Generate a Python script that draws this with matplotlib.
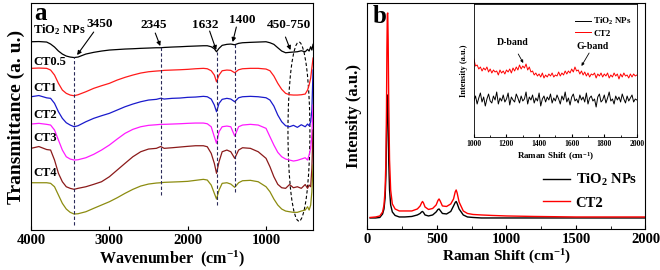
import numpy as np
import matplotlib
matplotlib.use('Agg')
import matplotlib.pyplot as plt
from matplotlib.patches import Ellipse

plt.rcParams['font.family'] = ['Liberation Serif', 'DejaVu Serif']
plt.rcParams['font.weight'] = 'bold'
plt.rcParams['axes.labelweight'] = 'bold'
plt.rcParams['mathtext.fontset'] = 'custom'
plt.rcParams['mathtext.rm'] = 'Liberation Serif:bold'
plt.rcParams['mathtext.bf'] = 'Liberation Serif:bold'
plt.rcParams['mathtext.it'] = 'Liberation Serif:italic:bold'
plt.rcParams['mathtext.default'] = 'rm'

# ---- (a) FTIR spectra, stacked with offsets (a.u.)
wavenumber = [4000, 3900, 3800, 3750, 3700, 3650, 3600, 3550, 3500, 3450,
              3400, 3300, 3200, 3100, 3000, 2900, 2800, 2700, 2600, 2500,
              2400, 2345, 2300, 2200, 2100, 2000, 1900, 1800, 1750, 1700,
              1660, 1632, 1600, 1560, 1500, 1450, 1400, 1350, 1300, 1200,
              1100, 1000, 950, 900, 850, 800, 750, 700, 650, 600,
              550, 500, 470, 450, 430, 415, 400]
ftir_tio2 = [188.3, 188.5, 188, 186, 183, 179, 176, 174, 173, 172.5,
             173, 176, 177.7, 179, 180, 180.5, 181, 181.3, 181.7, 182,
             182.3, 182.3, 182.6, 183, 183.3, 183.7, 184, 184.3, 184.3, 183.3,
             181.3, 178.3, 181.7, 184.7, 185.7, 186, 185.3, 186.7, 187.3, 187.7,
             188, 188.3, 187.3, 185.7, 182.3, 179, 177.3, 177.7, 178, 178.3,
             179.3, 178.3, 180.7, 179, 183.3, 180, 185.7]
ftir_ct05 = [161.7, 162, 161.7, 160, 155, 146.7, 140, 136.7, 135, 134.3,
             135.3, 138.3, 141.7, 144.3, 146.7, 150, 152.7, 155, 157, 158.3,
             159, 159.3, 159.7, 160, 160.3, 160.7, 161.3, 161.7, 161.3, 159.3,
             155, 148.3, 155, 159.3, 160, 159.7, 157.3, 160.3, 161.3, 161.7,
             161.7, 161, 159.3, 154, 146.7, 140.7, 136.7, 135.3, 135, 135,
             135.3, 136, 140, 145, 152, 162, 172]
ftir_ct1 = [133.3, 134.5, 132.2, 131.7, 126.7, 118.3, 111.7, 107.3, 105, 103.3,
            104.3, 108.3, 111.7, 114.3, 116.7, 120, 123.3, 126, 128.3, 130,
            130.7, 131.8, 131, 131.7, 132, 132.7, 133, 133.7, 133.3, 131,
            125, 118.3, 126.7, 130.7, 131.7, 131, 128.3, 132.3, 133.3, 133.7,
            133.3, 132.3, 130, 124, 115, 108.3, 104.3, 103.3, 104.7, 102.7,
            105.3, 103.3, 106, 104.3, 108.3, 120, 160]
ftir_ct2 = [106, 106.7, 105.7, 105, 100, 90, 80, 73.3, 71, 70,
            70.3, 72.3, 75.7, 80, 85, 91, 96.7, 100.7, 103.3, 104.7,
            105.3, 105.7, 105.7, 106, 106.3, 106.7, 107, 107, 106.3, 103.3,
            93.3, 86.7, 98.3, 103.3, 104, 103.3, 94, 103.3, 105, 105.7,
            105, 101.7, 93.3, 85, 77.7, 73.3, 71, 70, 69, 69.7,
            71, 72.3, 70, 75, 82, 95, 125]
ftir_ct3 = [81.7, 83.5, 80.5, 80, 70, 56.7, 48.3, 43.3, 41.7, 40.7,
            41.7, 43.3, 45.7, 48.3, 53.3, 60, 66.7, 73.3, 78.3, 81,
            81.7, 83.5, 81.7, 82.3, 83, 83.7, 84.3, 84.3, 83.3, 76.7,
            66.7, 56.7, 68.3, 78.3, 80, 78.3, 71.7, 80, 82.3, 81.7,
            78.3, 71.7, 63.3, 53.3, 45.7, 42.3, 41.7, 45.5, 42.3, 43.3,
            41.7, 45.5, 41.7, 45, 43.3, 61.7, 100]
ftir_ct4 = [47.3, 47.3, 47.3, 46.7, 43.3, 35, 26.7, 21, 17.7, 16,
            16.3, 18.3, 21.7, 25, 28.3, 32.3, 36.7, 40.7, 44, 46,
            47, 47.3, 47.7, 48, 48.3, 48.7, 49.7, 50.7, 50, 45,
            36.7, 31, 40, 46.7, 47.3, 46, 42.7, 47.3, 49.3, 49.7,
            48.3, 43.3, 38.3, 31, 25, 21, 19, 18.3, 17.7, 17.7,
            19, 20, 23.3, 20, 25, 38.3, 65]
ftir_names = ['TiO$_2$ NPs', 'CT0.5', 'CT1', 'CT2', 'CT3', 'CT4']
ftir_colors = ['black', '#ff1a1a', '#1a1acc', '#ff1aff', '#8b1a1a', '#8c8c10']
name_y = [200, 168, 141.7, 115, 92, 56.7]

# marked bands: position, line top, line bottom
band_pos = [3450, 2345, 1632, 1400]
band_top = [173, 183, 178, 187]
band_bottom = [5, 35, 25, 38]

# ---- (b) Raman spectra
raman_shift = [20, 60, 90, 110, 120, 128, 134, 138, 141, 144,
               147, 150, 154, 160, 168, 180, 200, 230, 270, 320,
               360, 380, 390, 397, 404, 415, 440, 470, 495, 508,
               516, 524, 540, 570, 600, 620, 632, 639, 646, 660,
               690, 720, 760, 820, 900, 1000, 1200, 1500, 1800, 2000]
raman_tio2 = [11, 11, 11.5, 15, 20, 31, 54, 89, 119, 134,
              129, 104, 69, 39, 24, 17, 13.5, 12, 12, 12.5,
              14, 15.5, 17, 17.5, 16.5, 14, 13, 14, 17, 19.5,
              20, 18.5, 15.5, 15, 17.5, 23, 26.5, 27.5, 25.5, 20,
              14, 12, 11.5, 11, 11, 11, 11, 11, 11, 11]
raman_ct2 = [11.5, 12, 13, 17, 24, 39, 69, 119, 179, 215,
             216, 189, 129, 69, 39, 25, 20, 18, 18, 18,
             20, 23, 26, 27.5, 26, 22, 19.5, 20.5, 24, 28.5,
             30, 28, 23, 22.5, 25, 30, 37, 39, 36, 27,
             18, 15.5, 14.5, 14, 13.5, 13, 12.5, 12, 12, 12]

# inset: 1000-2000 cm-1 zoom (a.u.)
inset_shift = np.arange(1000, 2001, 10)
inset_ct2 = [78, 71, 72, 68, 70, 66, 69, 67, 70, 65,
             68, 64, 67, 65, 66, 62, 67, 64, 66, 63,
             67, 65, 68, 64, 69, 66, 70, 67, 72, 68,
             71, 69, 73, 67, 70, 65, 66, 62, 64, 61,
             63, 60, 64, 59, 62, 60, 63, 61, 64, 60,
             62, 61, 65, 61, 64, 62, 66, 63, 66, 64,
             68, 65, 70, 66, 67, 63, 66, 62, 65, 61,
             64, 60, 63, 62, 64, 59, 63, 61, 64, 60,
             63, 61, 64, 59, 62, 60, 64, 61, 63, 58,
             63, 60, 64, 61, 62, 59, 63, 60, 63, 61,
             62]
inset_tio2 = [36, 41, 33, 39, 44, 35, 40, 31, 38, 43,
              36, 34, 41, 37, 45, 33, 39, 36, 42, 35,
              38, 44, 32, 40, 37, 35, 43, 39, 34, 41,
              36, 38, 45, 33, 40, 37, 42, 34, 39, 36,
              44, 31, 38, 41, 35, 40, 37, 43, 34, 39,
              36, 42, 38, 33, 41, 37, 45, 35, 39, 32,
              40, 43, 36, 38, 34, 42, 37, 40, 35, 44,
              33, 39, 41, 36, 38, 30, 40, 43, 35, 37,
              42, 34, 39, 45, 36, 38, 33, 41, 37, 40,
              35, 43, 38, 34, 41, 36, 39, 42, 35, 38,
              37]

arrow = dict(arrowstyle='-|>', color='k', lw=0.8, mutation_scale=6,
             shrinkA=0, shrinkB=0)
dash = (0, (3, 2))

fig = plt.figure(figsize=(6.6, 2.7), dpi=100)

# ================= panel a =================
ax1 = fig.add_axes([0.047, 0.148, 0.4273, 0.8407])
series = [ftir_tio2, ftir_ct05, ftir_ct1, ftir_ct2, ftir_ct3, ftir_ct4]
for vals, name, col, ny in zip(series, ftir_names, ftir_colors, name_y):
    ax1.plot(wavenumber, vals, color=col, lw=0.9)
    ax1.text(3975, ny, name, fontsize=9, ha='left', va='center')

for pos, top, bot in zip(band_pos, band_top, band_bottom):
    ax1.plot([pos, pos], [bot, top], color='#2a2a5a', lw=0.8, ls=dash)

ax1.add_patch(Ellipse((580, 98.5), width=280, height=179, fill=False,
                      ec='k', lw=0.8, ls=dash))

# band labels and arrows
ax1.text(3120, 206, '3450', fontsize=9.5, ha='center', va='center')
ax1.annotate('', xy=(3412, 175), xytext=(3200, 198), arrowprops=arrow)
ax1.text(2436, 205, '2345', fontsize=9.5, ha='center', va='center')
ax1.annotate('', xy=(2350, 184), xytext=(2414, 197), arrowprops=arrow)
ax1.text(1775, 205, '1632', fontsize=9.5, ha='center', va='center')
ax1.annotate('', xy=(1636, 180), xytext=(1720, 199), arrowprops=arrow)
ax1.text(1302, 210, '1400', fontsize=9.5, ha='center', va='center')
ax1.annotate('', xy=(1426, 188), xytext=(1379, 203), arrowprops=arrow)
ax1.text(701, 205, '450-750', fontsize=9.5, ha='center', va='center')
ax1.annotate('', xy=(688, 180), xytext=(752, 193), arrowprops=arrow)

ax1.text(3965, 217, 'a', fontsize=18, ha='left', va='center')

ax1.set_xlim(4000, 400)
ax1.set_ylim(0, 227)
ax1.set_xticks([4000, 3000, 2000, 1000])
ax1.set_yticks([])
ax1.tick_params(axis='x', direction='in', labelsize=10.5, length=3, pad=3)
ax1.set_xlabel('Wavenumber  (cm$^{-1}$)', fontsize=11.5, labelpad=1)
ax1.set_ylabel('Transmittance (a. u.)', fontsize=14, labelpad=4)

# ================= panel b =================
ax2 = fig.add_axes([0.5565, 0.152, 0.4215, 0.837])
l1, = ax2.plot(raman_shift, raman_tio2, color='black', lw=1.0)
l2, = ax2.plot(raman_shift, raman_ct2, color='#ff0000', lw=1.0)
ax2.legend([l1, l2], ['TiO$_2$ NPs', 'CT2'], loc='lower right',
           bbox_to_anchor=(0.99, 0.06), borderaxespad=0, frameon=False,
           fontsize=10.5, handlelength=1.85, handletextpad=0.35,
           labelspacing=0.55)
ax2.text(40, 212, 'b', fontsize=18, ha='left', va='center')

ax2.set_xlim(0, 2000)
ax2.set_ylim(0, 226)
ax2.set_xticks([0, 500, 1000, 1500, 2000])
ax2.set_xticks([250, 750, 1250, 1750], minor=True)
ax2.set_yticks([])
ax2.tick_params(axis='x', which='both', direction='in', labelsize=10.5, pad=3)
ax2.tick_params(axis='x', which='major', length=3)
ax2.tick_params(axis='x', which='minor', length=2)
ax2.set_xlabel('Raman Shift (cm$^{-1}$)', fontsize=11, labelpad=1)
ax2.set_ylabel('Intensity (a.u.)', fontsize=12, labelpad=4)

# inset
ax3 = fig.add_axes([0.718, 0.4926, 0.247, 0.4926])
i1, = ax3.plot(inset_shift, inset_tio2, color='black', lw=0.7)
i2, = ax3.plot(inset_shift, inset_ct2, color='#ff0000', lw=0.7)
ax3.legend([i1, i2], ['TiO$_2$ NPs', 'CT2'], loc='upper right',
           bbox_to_anchor=(0.99, 0.935), borderaxespad=0, frameon=False,
           fontsize=6.5, handlelength=1.8, handletextpad=0.2,
           labelspacing=0.2)
ax3.text(1236, 94, 'D-band', fontsize=7, ha='center', va='center')
ax3.annotate('', xy=(1303, 74), xytext=(1272, 83),
             arrowprops=dict(arrow, mutation_scale=4, lw=0.6))
ax3.text(1726, 90, 'G-band', fontsize=7, ha='center', va='center')
ax3.annotate('', xy=(1660, 71), xytext=(1707, 84),
             arrowprops=dict(arrow, mutation_scale=4, lw=0.6))

ax3.set_xlim(1000, 2000)
ax3.set_ylim(0, 133)
ax3.set_xticks([1000, 1200, 1400, 1600, 1800, 2000])
ax3.set_xticks([1100, 1300, 1500, 1700, 1900], minor=True)
ax3.set_yticks([])
ax3.tick_params(axis='x', which='both', direction='in', labelsize=5.5, pad=2)
ax3.tick_params(axis='x', which='major', length=2.5)
ax3.tick_params(axis='x', which='minor', length=1.5)
ax3.set_xlabel('Raman Shift (cm$^{-1}$)', fontsize=6.5, labelpad=2)
ax3.set_ylabel('Intensity (a.u.)', fontsize=6, labelpad=4)
for sp in ax3.spines.values():
    sp.set_linewidth(0.6)

fig.savefig('out.png', dpi=100)
